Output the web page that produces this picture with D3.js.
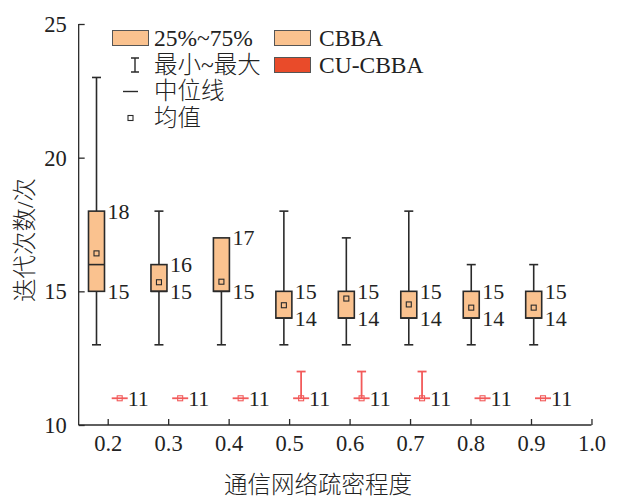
<!DOCTYPE html>
<html>
<head>
<meta charset="utf-8">
<script src="https://cdn.jsdelivr.net/npm/d3@7"></script>
<style>
  html, body { margin: 0; padding: 0; background: #fff; }
  svg text { fill: #222; }
  .latin { font-family: "Liberation Serif", "Times New Roman", serif; }
  .cjk { font-family: "Liberation Serif", "Noto Sans CJK SC", serif; font-weight: 300; }
</style>
</head>
<body>
<svg id="chart" width="621" height="500"></svg>
<script>
// Network density levels (x categories)
const density = [0.2, 0.3, 0.4, 0.5, 0.6, 0.7, 0.8, 0.9];
const xTicks = [0.2, 0.3, 0.4, 0.5, 0.6, 0.7, 0.8, 0.9, 1.0];
const yTicks = [10, 15, 20, 25];

// CBBA iteration statistics
const cbbaMin    = [13, 13, 13, 13, 13, 13, 13, 13];
const cbbaQ1     = [15, 15, 15, 14, 14, 14, 14, 14];
const cbbaMedian = [16, 15, 15, 14, 14, 14, 14, 14];
const cbbaQ3     = [18, 16, 17, 15, 15, 15, 15, 15];
const cbbaMax    = [23, 18, 17, 18, 17, 18, 16, 16];
const cbbaMean   = [16.42, 15.34, 15.36, 14.48, 14.73, 14.51, 14.39, 14.39];

// CU-CBBA iteration statistics
const cuMin    = [11, 11, 11, 11, 11, 11, 11, 11];
const cuQ1     = [11, 11, 11, 11, 11, 11, 11, 11];
const cuMedian = [11, 11, 11, 11, 11, 11, 11, 11];
const cuQ3     = [11, 11, 11, 11, 11, 11, 11, 11];
const cuMax    = [11, 11, 11, 12, 12, 12, 11, 11];
const cuMean   = [11, 11, 11, 11, 11, 11, 11, 11];

const legendLeft = ["25%~75%", "最小~最大", "中位线", "均值"];
const legendRight = ["CBBA", "CU-CBBA"];

const cbbaFill = "#fac28f";
const cuFill = "#e94b2a";
const cuStroke = "#f25a5a";
const ink = "#2a2a2a";
const FS_TICK = 22.5, FS_LABEL = 22, FS_TITLE = 23.5, FS_LEGEND = 23.5;

const svg = d3.select("#chart");

const x = d3.scaleLinear().domain([0.2, 0.9]).range([107.7, 531]);
const xBox = d3.scaleLinear().domain([0.2, 0.9]).range([96.5, 533.7]);
const y = d3.scaleLinear().domain([10, 25]).range([425, 24]);

const xLeft = x(0.152), xRight = x(1.0);

// Axes: ticks point inward
const xAxis = svg.append("g").attr("transform", `translate(0,${y(10)})`)
  .call(d3.axisBottom(x).tickValues(xTicks).tickSize(-6).tickSizeOuter(0)
        .tickFormat(d3.format(".1f")));
xAxis.select(".domain").attr("d", `M${xLeft},0H${xRight}`);
const yAxis = svg.append("g").attr("transform", `translate(${xLeft},0)`)
  .call(d3.axisLeft(y).tickValues(yTicks).tickSize(-6).tickSizeOuter(0));
yAxis.select(".domain").attr("d", `M0,${y(25)}V${y(10)}`);

[xAxis, yAxis].forEach(g => {
  g.selectAll("path, line").attr("stroke", ink).attr("stroke-width", 1.3);
  g.selectAll("text").attr("class", "latin").attr("font-size", FS_TICK).attr("fill", ink);
});
xAxis.selectAll("text").attr("dy", "1.0em");
yAxis.selectAll("text").attr("x", -12).attr("dy", "0.34em");

// Axis titles
svg.append("text").attr("class", "cjk").attr("font-size", FS_TITLE)
  .attr("x", 318).attr("y", 493).attr("text-anchor", "middle").text("通信网络疏密程度");
svg.append("text").attr("class", "cjk").attr("font-size", FS_TITLE)
  .attr("transform", `translate(33,240) rotate(-90)`)
  .attr("text-anchor", "middle").text("迭代次数/次");

// Box plot drawing
function drawBoxes(cx, mn, q1, med, q3, mx, mean, opt) {
  const g = svg.append("g");
  const hw = opt.width / 2, cap = opt.cap / 2;
  density.forEach((d, i) => {
    const c = cx(d);
    // whiskers
    if (mx[i] > q3[i]) {
      g.append("line").attr("x1", c).attr("x2", c).attr("y1", y(q3[i])).attr("y2", y(mx[i]))
        .attr("stroke", opt.stroke).attr("stroke-width", opt.sw);
      g.append("line").attr("x1", c - cap).attr("x2", c + cap).attr("y1", y(mx[i])).attr("y2", y(mx[i]))
        .attr("stroke", opt.stroke).attr("stroke-width", opt.sw);
    }
    if (mn[i] < q1[i]) {
      g.append("line").attr("x1", c).attr("x2", c).attr("y1", y(q1[i])).attr("y2", y(mn[i]))
        .attr("stroke", opt.stroke).attr("stroke-width", opt.sw);
      g.append("line").attr("x1", c - cap).attr("x2", c + cap).attr("y1", y(mn[i])).attr("y2", y(mn[i]))
        .attr("stroke", opt.stroke).attr("stroke-width", opt.sw);
    }
    // interquartile box
    g.append("rect").attr("x", c - hw).attr("y", y(q3[i]))
      .attr("width", opt.width).attr("height", Math.max(0, y(q1[i]) - y(q3[i])))
      .attr("fill", opt.fill).attr("stroke", opt.stroke).attr("stroke-width", opt.sw);
    // median
    g.append("line").attr("x1", c - hw).attr("x2", c + hw).attr("y1", y(med[i])).attr("y2", y(med[i]))
      .attr("stroke", opt.stroke).attr("stroke-width", opt.sw);
    // mean
    g.append("rect").attr("x", c - 2.5).attr("y", y(mean[i]) - 2.5).attr("width", 5).attr("height", 5)
      .attr("fill", "none").attr("stroke", opt.stroke).attr("stroke-width", 1.1);
  });
  return g;
}

drawBoxes(xBox, cbbaMin, cbbaQ1, cbbaMedian, cbbaQ3, cbbaMax, cbbaMean,
  { width: 16, cap: 9, fill: cbbaFill, stroke: ink, sw: 1.6 });
drawBoxes(d => x(d) + 12, cuMin, cuQ1, cuMedian, cuQ3, cuMax, cuMean,
  { width: 16, cap: 9, fill: cuFill, stroke: cuStroke, sw: 1.8 });

// Quartile value labels
const labels = svg.append("g").attr("class", "latin").attr("font-size", FS_LABEL);
density.forEach((d, i) => {
  const lx = xBox(d) + 8 + 3;
  labels.append("text").attr("x", lx).attr("y", y(cbbaQ3[i])).attr("dy", "0.34em").text(cbbaQ3[i]);
  labels.append("text").attr("x", lx).attr("y", y(cbbaQ1[i])).attr("dy", "0.34em").text(cbbaQ1[i]);
  labels.append("text").attr("x", x(d) + 12 + 8).attr("y", y(cuQ1[i])).attr("dy", "0.34em").text(cuQ1[i]);
});

// Legend
const lg = svg.append("g");
const rows = [38, 65, 91.5, 118];
const txL = 154, txR = 319;
lg.append("rect").attr("x", 112.5).attr("y", rows[0] - 7.5).attr("width", 36).attr("height", 15)
  .attr("fill", cbbaFill).attr("stroke", "#555").attr("stroke-width", 1);
// min-max icon
lg.append("path").attr("d", `M131,${rows[1]-7}H139M135,${rows[1]-7}V${rows[1]+7}M131,${rows[1]+7}H139`)
  .attr("stroke", ink).attr("stroke-width", 1.4).attr("fill", "none");
// median icon
lg.append("line").attr("x1", 123).attr("x2", 138).attr("y1", rows[2]).attr("y2", rows[2])
  .attr("stroke", ink).attr("stroke-width", 1.4);
// mean icon
lg.append("rect").attr("x", 128).attr("y", rows[3] - 2.5).attr("width", 5).attr("height", 5)
  .attr("fill", "none").attr("stroke", ink).attr("stroke-width", 1.1);
legendLeft.forEach((t, i) => {
  lg.append("text").attr("class", "cjk").attr("font-size", FS_LEGEND).attr("x", txL).attr("y", rows[i])
    .attr("dy", "0.34em").text(t);
});
[cbbaFill, cuFill].forEach((f, i) => {
  lg.append("rect").attr("x", 274.5).attr("y", rows[i] - 7.5).attr("width", 36).attr("height", 15)
    .attr("fill", f).attr("stroke", "#555").attr("stroke-width", 1);
  lg.append("text").attr("class", "latin").attr("font-size", FS_LEGEND).attr("x", txR).attr("y", rows[i])
    .attr("dy", "0.34em").text(legendRight[i]);
});
</script>
</body>
</html>
